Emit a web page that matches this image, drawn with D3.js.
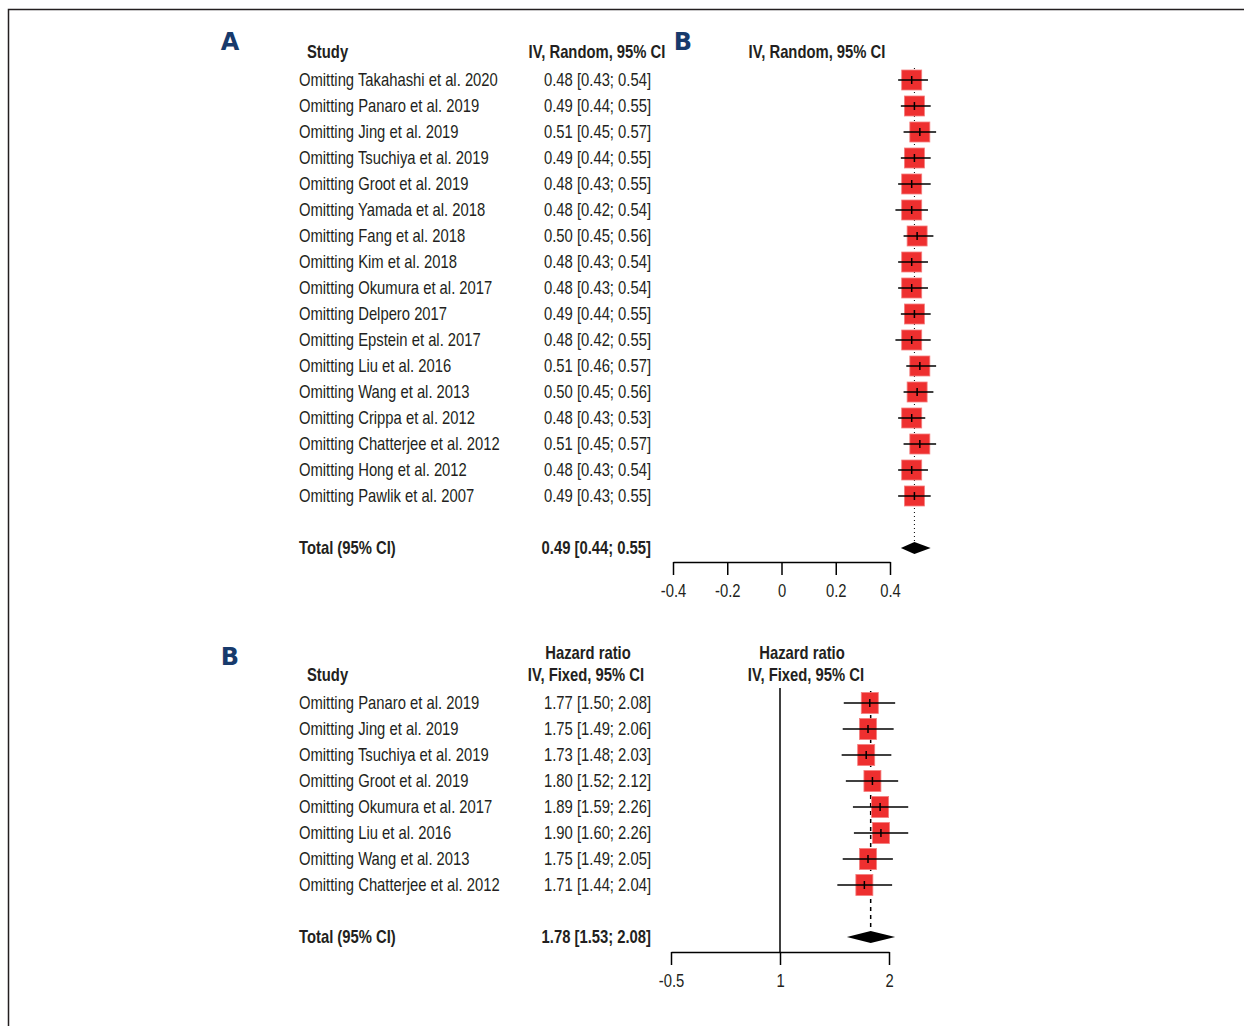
<!DOCTYPE html>
<html>
<head>
<meta charset="utf-8">
<script src="https://cdn.jsdelivr.net/npm/d3@7"></script>
<style>
  body { margin: 0; background: #fff; }
  svg text { font-family: "Liberation Sans", Arial, sans-serif; fill: #231f20; }
  .lbl { font-family: "DejaVu Sans", sans-serif !important; font-weight: bold; fill: #173a6c !important; }
</style>
</head>
<body>
<svg id="chart" width="1244" height="1026"></svg>
<script>
// panel A: leave-one-out, random effects
var studiesA = ["Takahashi et al. 2020", "Panaro et al. 2019", "Jing et al. 2019", "Tsuchiya et al. 2019",
	"Groot et al. 2019", "Yamada et al. 2018", "Fang et al. 2018", "Kim et al. 2018", "Okumura et al. 2017",
	"Delpero 2017", "Epstein et al. 2017", "Liu et al. 2016", "Wang et al. 2013", "Crippa et al. 2012",
	"Chatterjee et al. 2012", "Hong et al. 2012", "Pawlik et al. 2007"];
var estA = [0.48, 0.49, 0.51, 0.49, 0.48, 0.48, 0.50, 0.48, 0.48, 0.49, 0.48, 0.51, 0.50, 0.48, 0.51, 0.48, 0.49];
var lowA = [0.43, 0.44, 0.45, 0.44, 0.43, 0.42, 0.45, 0.43, 0.43, 0.44, 0.42, 0.46, 0.45, 0.43, 0.45, 0.43, 0.43];
var highA = [0.54, 0.55, 0.57, 0.55, 0.55, 0.54, 0.56, 0.54, 0.54, 0.55, 0.55, 0.57, 0.56, 0.53, 0.57, 0.54, 0.55];
var totalA = [0.49, 0.44, 0.55];
var ticksA = [-0.4, -0.2, 0, 0.2, 0.4];
var tickLabelsA = ["-0.4", "-0.2", "0", "0.2", "0.4"];

// panel B: leave-one-out, fixed effects hazard ratio
var studiesB = ["Panaro et al. 2019", "Jing et al. 2019", "Tsuchiya et al. 2019", "Groot et al. 2019",
	"Okumura et al. 2017", "Liu et al. 2016", "Wang et al. 2013", "Chatterjee et al. 2012"];
var estB = [1.77, 1.75, 1.73, 1.80, 1.89, 1.90, 1.75, 1.71];
var lowB = [1.50, 1.49, 1.48, 1.52, 1.59, 1.60, 1.49, 1.44];
var highB = [2.08, 2.06, 2.03, 2.12, 2.26, 2.26, 2.05, 2.04];
var totalB = [1.78, 1.53, 2.08];
var ticksB = [0.5, 1, 2];
var tickLabelsB = ["-0.5", "1", "2"];

var svg = d3.select("#chart");
var fmt = d3.format(".2f");
var ci = function(e, l, h) { return fmt(e) + " [" + fmt(l) + "; " + fmt(h) + "]"; };
var SQUEEZE = 0.8; // condensed look
var FS = 18.5;

// frame
svg.append("path")
	.attr("d", "M8.5,1026 V9.5 H1244")
	.attr("fill", "none").attr("stroke", "#231f20").attr("stroke-width", 1.5);

// condensed text helper
function label(g, x, y, str, anchor, bold) {
	return g.append("text")
		.attr("transform", "translate(" + x + "," + y + ") scale(" + SQUEEZE + ",1)")
		.attr("dy", "0.35em").attr("font-size", FS)
		.attr("text-anchor", anchor || "start")
		.attr("font-weight", bold ? "bold" : null)
		.text(str);
}

function forest(opt) {
	var g = svg.append("g");
	var n = opt.studies.length;
	var y = d3.scaleLinear().domain([0, 1]).range([opt.top, opt.top + 26]);
	var yTotal = y(n + 1);
	var x = opt.x;

	opt.headers.forEach(function(h) { label(g, h[0], h[1], h[2], h[3] || "middle", true); });

	opt.studies.forEach(function(d, i) {
		label(g, 299, y(i), "Omitting " + d);
		label(g, 651, y(i), ci(opt.est[i], opt.low[i], opt.high[i]), "end");
	});
	label(g, 299, yTotal, "Total (95% CI)", "start", true);
	label(g, 651, yTotal, ci(opt.total[0], opt.total[1], opt.total[2]), "end", true);

	// reference line (panel B only)
	if (opt.refLine != null) {
		g.append("line").attr("x1", x(opt.refLine)).attr("x2", x(opt.refLine))
			.attr("y1", opt.top - 15).attr("y2", opt.axisY)
			.attr("stroke", "#000").attr("stroke-width", 1.5);
	}
	// pooled estimate line
	g.append("line").attr("x1", x(opt.total[0])).attr("x2", x(opt.total[0]))
		.attr("y1", opt.top - 12).attr("y2", yTotal - 6)
		.attr("stroke", "#000").attr("stroke-width", opt.dashW)
		.attr("stroke-dasharray", opt.dash);

	var rows = g.selectAll(".row").data(opt.studies).enter().append("g").attr("class", "row")
		.attr("transform", function(d, i) { return "translate(0," + y(i) + ")"; });
	rows.append("rect")
		.attr("x", function(d, i) { return x(opt.est[i]) - opt.sw / 2; })
		.attr("y", -opt.sh / 2).attr("width", opt.sw).attr("height", opt.sh)
		.attr("fill", "#ee2f2f").attr("stroke", "#f47f7f").attr("stroke-width", 0.8);
	rows.append("line")
		.attr("x1", function(d, i) { return x(opt.low[i]); })
		.attr("x2", function(d, i) { return x(opt.high[i]); })
		.attr("stroke", "#000").attr("stroke-width", 1.5);
	rows.append("line")
		.attr("x1", function(d, i) { return x(opt.est[i]); })
		.attr("x2", function(d, i) { return x(opt.est[i]); })
		.attr("y1", -4).attr("y2", 4)
		.attr("stroke", "#000").attr("stroke-width", 1.5);

	// pooled diamond
	g.append("path")
		.attr("d", "M" + x(opt.total[1]) + "," + yTotal + "L" + x(opt.total[0]) + "," + (yTotal - 6) +
			"L" + x(opt.total[2]) + "," + yTotal + "L" + x(opt.total[0]) + "," + (yTotal + 6) + "Z")
		.attr("fill", "#000");

	// axis
	var axis = d3.axisBottom(x).tickValues(opt.ticks).tickSize(13).tickSizeOuter(0).tickPadding(9)
		.tickFormat(function(d, i) { return opt.tickLabels[i]; });
	var ag = g.append("g").attr("transform", "translate(0," + opt.axisY + ")").call(axis);
	ag.select(".domain").attr("stroke-width", 1.5);
	ag.selectAll(".tick line").attr("stroke-width", 1.5);
	ag.selectAll(".tick text").attr("font-size", FS).attr("font-family", null).attr("fill", "#231f20")
		.attr("transform", "scale(" + SQUEEZE + ",1)");
}

forest({
	studies: studiesA, est: estA, low: lowA, high: highA, total: totalA,
	ticks: ticksA, tickLabels: tickLabelsA,
	x: d3.scaleLinear().domain([-0.4, 0.4]).range([673, 890]),
	top: 80, axisY: 562, sw: 20, sh: 20, dash: "1,3", dashW: 1, refLine: null,
	headers: [[307, 52, "Study", "start"], [597, 52, "IV, Random, 95% CI"], [817, 52, "IV, Random, 95% CI"]]
});

forest({
	studies: studiesB, est: estB, low: lowB, high: highB, total: totalB,
	ticks: ticksB, tickLabels: tickLabelsB,
	x: d3.scaleLog().base(2).domain([0.5, 2]).range([671, 889]),
	top: 703, axisY: 952, sw: 17, sh: 21, dash: "4,4", dashW: 1.5, refLine: 1,
	headers: [[307, 675, "Study", "start"], [588, 653, "Hazard ratio"], [586, 675, "IV, Fixed, 95% CI"],
		[802, 653, "Hazard ratio"], [806, 675, "IV, Fixed, 95% CI"]]
});

// panel letters
[["A", 230, 42], ["B", 683, 42], ["B", 230, 657]].forEach(function(l) {
	svg.append("text").attr("class", "lbl").attr("x", l[1]).attr("y", l[2]).attr("dy", "0.35em")
		.attr("text-anchor", "middle").attr("font-size", 24).text(l[0]);
});
</script>
</body>
</html>
